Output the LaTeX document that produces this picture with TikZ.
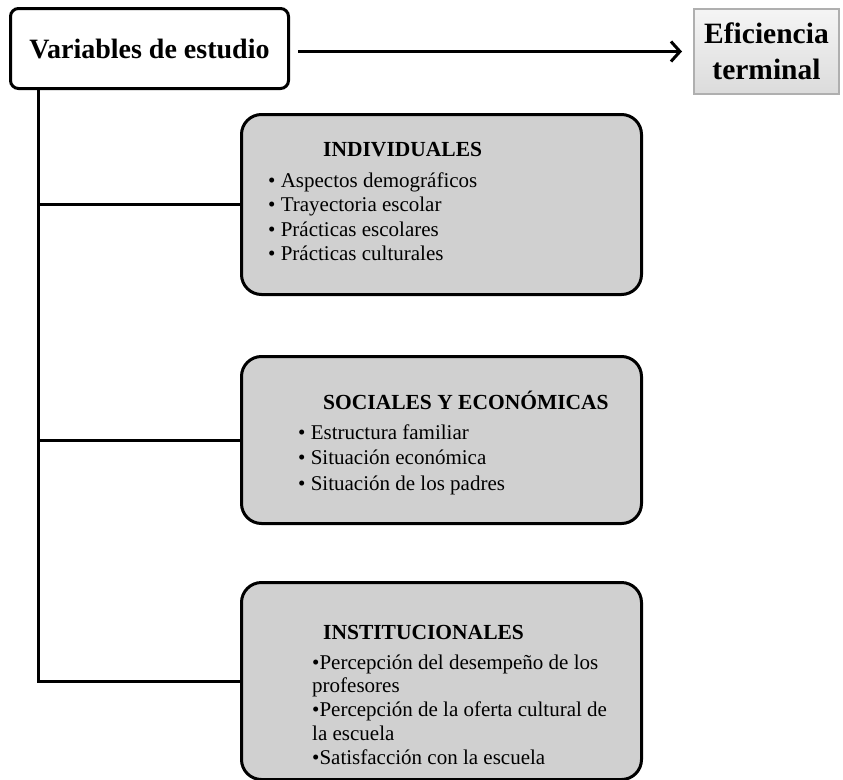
\documentclass[tikz,border=0pt]{standalone}
\usepackage{fontspec}
\setmainfont{Liberation Serif}
\usetikzlibrary{arrows.meta}
\definecolor{boxgray}{RGB}{208,208,208}
\definecolor{efedge}{RGB}{175,175,175}
\tikzset{
  conn/.style={line width=3pt, draw=black},
  arr/.style={line width=3pt, draw=black, -{Straight Barb[length=9pt,width=20pt,line width=3pt]}, shorten <=8pt, shorten >=11pt},
  catbox/.style={draw=black, line width=3pt, fill=boxgray, rounded corners=20pt, anchor=north west, inner sep=0pt, minimum width=400pt},
  varbox/.style={draw=black, line width=3pt, fill=white, rounded corners=8pt, anchor=north west, inner sep=0pt, minimum width=278pt, minimum height=80pt, font=\fontsize{28}{32}\selectfont\bfseries},
  efbox/.style={draw=efedge, line width=2pt, top color=white!96!black, bottom color=black!14, anchor=north west, inner sep=0pt, minimum width=145pt, minimum height=85pt, align=center, font=\fontsize{29.5}{36}\selectfont\bfseries},
  ttl/.style={anchor=base west, inner sep=0pt, font=\fontsize{21.5}{25}\selectfont\bfseries},
  itm/.style={anchor=base west, inner sep=0pt, font=\fontsize{21}{25}\selectfont},
}
\begin{document}
\begin{tikzpicture}[x=1pt, y=-1pt]
\useasboundingbox (0,0) rectangle (843,779);

\node[varbox] (var) at (9,7) {Variables de estudio};
\node[efbox] (ef) at (693,8) {Eficiencia\\terminal};

\node[catbox, minimum height=180pt] (b1) at (240,113) {};
\node[catbox, minimum height=167pt] (b2) at (240,355) {};
\node[catbox, minimum height=197pt] (b3) at (240,581) {};

% connectors
\coordinate (t0) at ([xshift=29pt]var.south west);
\draw[conn] (t0) |- (b3.west);
\draw[conn] (t0 |- b1.west) -- (b1.west);
\draw[conn] (t0 |- b2.west) -- (b2.west);
\draw[arr] (var.east |- ef.west) -- (ef.west);

% box 1
\node[ttl] (t1) at (323,156) {INDIVIDUALES};
\node[itm] (b1a) at (268,187) {• Aspectos demográficos};
\node[itm] (b1b) at (268,211.5) {• Trayectoria escolar};
\node[itm] (b1c) at (268,236) {• Prácticas escolares};
\node[itm] (b1d) at (268,260.5) {• Prácticas culturales};

% box 2
\node[ttl] (t2) at (323,409) {SOCIALES Y ECONÓMICAS};
\node[itm] (b2a) at (298,439) {• Estructura familiar};
\node[itm] (b2b) at (298,464.5) {• Situación económica};
\node[itm] (b2c) at (298,490) {• Situación de los padres};

% box 3
\node[ttl] (t3) at (323,639) {INSTITUCIONALES};
\node[itm] (b3a) at (312,669) {•Percepción del desempeño de los};
\node[itm] (b3b) at (312,692.5) {profesores};
\node[itm] (b3c) at (312,716.5) {•Percepción de la oferta cultural de};
\node[itm] (b3d) at (312,740) {la escuela};
\node[itm] (b3e) at (312,764) {•Satisfacción con la escuela};
\end{tikzpicture}
\end{document}
